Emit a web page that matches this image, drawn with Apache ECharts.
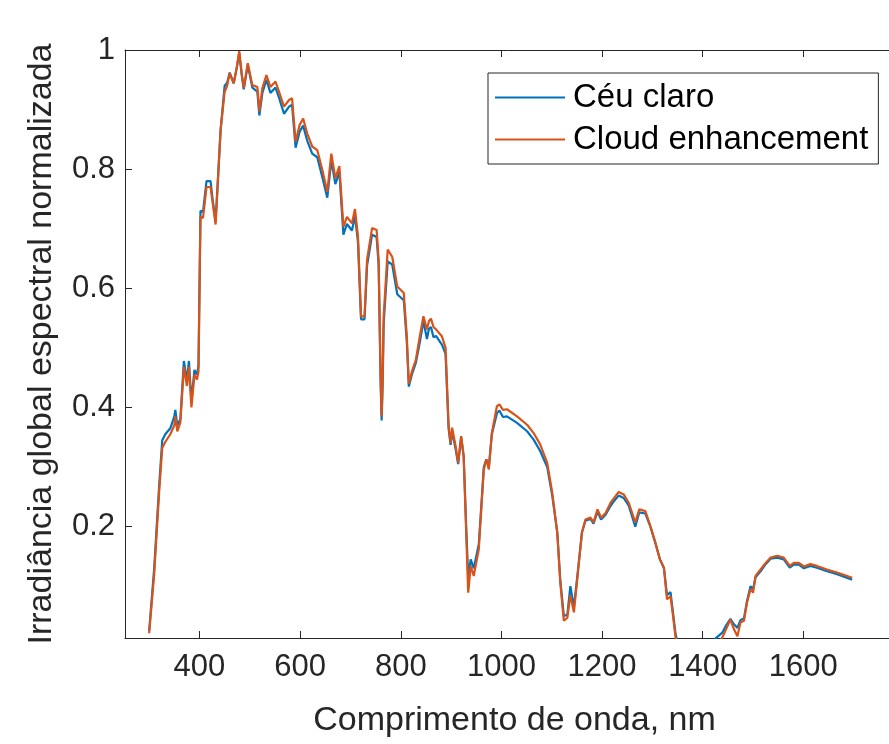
<!DOCTYPE html>
<html lang="pt">
<head>
<meta charset="UTF-8">
<title>Irradiância espectral</title>
<script src="https://cdn.jsdelivr.net/npm/echarts@6/dist/echarts.min.js"></script>
<style>
  html, body { margin: 0; padding: 0; background: #fff; overflow: hidden; }
  #main { width: 889px; height: 744px; }
</style>
</head>
<body>
<div id="main"></div>
<script>
// comprimentos de onda (nm)
var wavelengths = [300, 310, 320, 326, 332, 342, 350, 352, 356, 362, 369, 375, 379, 384, 390, 395, 398, 402, 407, 414,
  422, 426, 432, 442, 450, 455, 460, 468, 474, 479, 484, 488, 496, 505, 515, 519, 525, 533, 541, 551,
  558, 568, 578, 584, 591, 599, 606, 614, 624, 634, 644, 654, 662, 670, 678, 686, 693, 703, 709, 715,
  721, 728, 733, 743, 752, 756, 760, 762, 764, 766, 774, 783, 793, 806, 812, 816, 822, 830, 838, 845,
  852, 856, 860, 865, 870, 882, 889, 895, 899, 902, 909, 914, 920, 925, 930, 934, 939, 945, 955, 965,
  970, 975, 981, 991, 996, 1003, 1011, 1031, 1051, 1064, 1077, 1091, 1101, 1111, 1117, 1124, 1131, 1137, 1144, 1150,
  1160, 1167, 1177, 1183, 1191, 1198, 1207, 1217, 1223, 1233, 1243, 1253, 1266, 1274, 1286, 1296, 1306, 1315, 1323, 1329,
  1336, 1341, 1346, 1350, 1360, 1400, 1425, 1439, 1445, 1455, 1462, 1469, 1475, 1482, 1488, 1495, 1500, 1505, 1515, 1525,
  1535, 1548, 1561, 1573, 1581, 1591, 1601, 1614, 1627, 1647, 1667, 1697];

// Céu claro
var clearSky = [0.025, 0.13, 0.27, 0.345, 0.355, 0.365, 0.385, 0.396, 0.37, 0.38, 0.478, 0.445, 0.478, 0.41, 0.463, 0.455, 0.47, 0.73, 0.728, 0.78,
  0.78, 0.75, 0.712, 0.866, 0.94, 0.945, 0.962, 0.944, 0.97, 0.995, 0.958, 0.934, 0.975, 0.937, 0.93, 0.89, 0.928, 0.95, 0.928, 0.937,
  0.92, 0.893, 0.905, 0.908, 0.836, 0.863, 0.873, 0.848, 0.826, 0.82, 0.787, 0.752, 0.815, 0.775, 0.795, 0.69, 0.708, 0.697, 0.722, 0.677,
  0.548, 0.548, 0.638, 0.69, 0.686, 0.64, 0.44, 0.378, 0.44, 0.54, 0.645, 0.64, 0.59, 0.58, 0.51, 0.435, 0.455, 0.475, 0.51, 0.545,
  0.515, 0.532, 0.535, 0.518, 0.52, 0.505, 0.49, 0.365, 0.337, 0.36, 0.33, 0.305, 0.35, 0.318, 0.2, 0.115, 0.145, 0.13, 0.17, 0.3,
  0.313, 0.3, 0.355, 0.39, 0.395, 0.384, 0.385, 0.374, 0.36, 0.346, 0.327, 0.3, 0.252, 0.19, 0.11, 0.05, 0.052, 0.1, 0.065, 0.11,
  0.19, 0.21, 0.213, 0.205, 0.225, 0.212, 0.22, 0.235, 0.242, 0.252, 0.248, 0.235, 0.2, 0.224, 0.222, 0.2, 0.172, 0.145, 0.13, 0.085,
  0.09, 0.055, 0.02, 0.005, -0.02, -0.03, 0.012, 0.022, 0.032, 0.045, 0.036, 0.03, 0.043, 0.046, 0.075, 0.1, 0.095, 0.115, 0.125, 0.137,
  0.146, 0.148, 0.145, 0.131, 0.136, 0.136, 0.13, 0.134, 0.131, 0.125, 0.12, 0.111];

// Cloud enhancement
var cloudEnh = [0.021, 0.12, 0.26, 0.332, 0.342, 0.355, 0.37, 0.385, 0.36, 0.375, 0.468, 0.436, 0.468, 0.4, 0.455, 0.447, 0.46, 0.72, 0.718, 0.77,
  0.77, 0.745, 0.707, 0.866, 0.93, 0.94, 0.961, 0.944, 0.97, 0.998, 0.96, 0.936, 0.978, 0.941, 0.938, 0.897, 0.936, 0.958, 0.938, 0.947,
  0.93, 0.905, 0.916, 0.919, 0.846, 0.874, 0.885, 0.86, 0.838, 0.832, 0.799, 0.762, 0.826, 0.785, 0.805, 0.703, 0.72, 0.709, 0.733, 0.687,
  0.553, 0.553, 0.648, 0.701, 0.698, 0.648, 0.45, 0.385, 0.45, 0.553, 0.665, 0.653, 0.603, 0.592, 0.52, 0.44, 0.46, 0.48, 0.52, 0.553,
  0.531, 0.545, 0.549, 0.535, 0.531, 0.519, 0.5, 0.37, 0.34, 0.366, 0.335, 0.307, 0.352, 0.318, 0.19, 0.089, 0.134, 0.117, 0.162, 0.296,
  0.313, 0.296, 0.357, 0.402, 0.405, 0.396, 0.397, 0.385, 0.371, 0.357, 0.338, 0.307, 0.257, 0.19, 0.106, 0.042, 0.047, 0.085, 0.056, 0.106,
  0.19, 0.212, 0.215, 0.207, 0.229, 0.215, 0.223, 0.24, 0.247, 0.258, 0.254, 0.24, 0.207, 0.229, 0.226, 0.201, 0.173, 0.145, 0.131, 0.078,
  0.083, 0.05, 0.014, 0.0, -0.02, -0.03, -0.005, 0.014, 0.025, 0.044, 0.028, 0.016, 0.039, 0.042, 0.072, 0.095, 0.089, 0.117, 0.128, 0.139,
  0.148, 0.151, 0.148, 0.134, 0.139, 0.139, 0.133, 0.137, 0.134, 0.128, 0.123, 0.114];

var xTicks = [400, 600, 800, 1000, 1200, 1400, 1600];
var yTicks = [0.2, 0.4, 0.6, 0.8, 1];

function pairs(ys) {
  return wavelengths.map(function (x, i) { return [x, ys[i]]; });
}

var fontFam = '"Liberation Sans", Arial, sans-serif';
var axisColor = '#262626';

var chart = echarts.init(document.getElementById('main'));

var option = {
  animation: false,
  grid: { left: 125, top: 50, width: 779, height: 588, outerBoundsMode: 'none', show: false },
  legend: {
    orient: 'vertical',
    left: 488, top: 73,
    align: 'left',
    padding: [8, 10, 8, 7],
    itemGap: 9,
    itemWidth: 70, itemHeight: 2,
    icon: 'rect',
    borderColor: axisColor, borderWidth: 1,
    backgroundColor: '#fff',
    textStyle: { fontFamily: fontFam, fontSize: 33, color: '#000', padding: [0, 0, 0, 3] },
    data: ['Céu claro', 'Cloud enhancement']
  },
  xAxis: [{
    type: 'value', min: 252, max: 1800,
    name: 'Comprimento de onda, nm',
    nameLocation: 'middle', nameGap: 66,
    nameTextStyle: { fontFamily: fontFam, fontSize: 34, color: axisColor },
    axisLine: { show: true, lineStyle: { color: axisColor, width: 1 } },
    axisTick: { show: true, inside: true, length: 7, customValues: xTicks, lineStyle: { color: axisColor } },
    axisLabel: {
      customValues: xTicks, margin: 14, fontFamily: fontFam, fontSize: 31, color: axisColor,
      formatter: function (v) { return String(v); }
    },
    splitLine: { show: false }
  }, {
    type: 'value', min: 252, max: 1800, position: 'top',
    axisLine: { show: true, lineStyle: { color: axisColor, width: 1 } },
    axisTick: { show: true, inside: true, length: 7, customValues: xTicks, lineStyle: { color: axisColor } },
    axisLabel: { show: false },
    splitLine: { show: false }
  }],
  yAxis: {
    type: 'value', min: 0.013, max: 1,
    name: 'Irradiância global espectral normalizada',
    nameLocation: 'middle', nameGap: 66,
    nameTextStyle: { fontFamily: fontFam, fontSize: 34, color: axisColor },
    axisLine: { show: true, lineStyle: { color: axisColor, width: 1 } },
    axisTick: { show: true, inside: true, length: 7, customValues: yTicks, lineStyle: { color: axisColor } },
    axisLabel: {
      customValues: yTicks, margin: 10, fontFamily: fontFam, fontSize: 31, color: axisColor,
      formatter: function (v) { return String(Math.round(v * 10) / 10); }
    },
    splitLine: { show: false }
  },
  series: [{
    name: 'Céu claro',
    type: 'line',
    data: pairs(clearSky),
    showSymbol: false,
    lineStyle: { color: '#0072BD', width: 2.2 },
    itemStyle: { color: '#0072BD' }
  }, {
    name: 'Cloud enhancement',
    type: 'line',
    data: pairs(cloudEnh),
    showSymbol: false,
    lineStyle: { color: '#D95319', width: 2.2 },
    itemStyle: { color: '#D95319' }
  }]
};

chart.setOption(option);
</script>
</body>
</html>
